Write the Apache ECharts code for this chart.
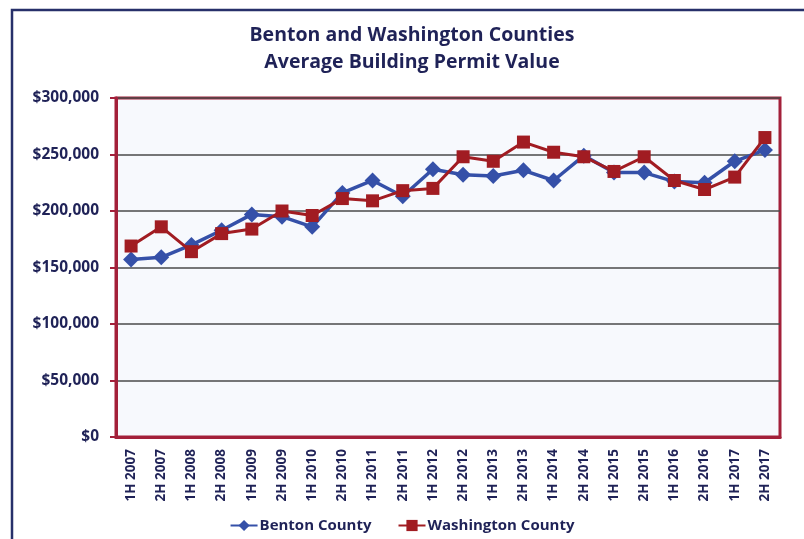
<!DOCTYPE html>
<html>
<head>
<meta charset="utf-8">
<title>Average Building Permit Value</title>
<script src="https://cdn.jsdelivr.net/npm/echarts@6/dist/echarts.min.js"></script>
<style>
  html, body { margin: 0; padding: 0; background: #ffffff; }
  #main { width: 804px; height: 539px; }
</style>
</head>
<body>
<div id="main"></div>
<script>
// half-year periods
var periods = ['1H 2007','2H 2007','1H 2008','2H 2008','1H 2009','2H 2009','1H 2010','2H 2010',
  '1H 2011','2H 2011','1H 2012','2H 2012','1H 2013','2H 2013','1H 2014','2H 2014',
  '1H 2015','2H 2015','1H 2016','2H 2016','1H 2017','2H 2017'];

// average permit value
var benton = [157000,159000,170000,183000,197000,195000,186000,216000,227000,213000,237000,232000,
  231000,236000,227000,249000,234000,234000,226000,225000,244000,254000];
var washington = [169000,186000,164000,180000,184000,200000,196000,211000,209000,218000,220000,248000,
  244000,261000,252000,248000,235000,248000,227000,219000,230000,265000];

var yTicks = [0, 50000, 100000, 150000, 200000, 250000, 300000];

var navy = '#1f2257';
var fontFam = 'Open Sans';

var myChart = echarts.init(document.getElementById('main'));

var option = {
  backgroundColor: '#ffffff',
  graphic: [{
    type: 'rect',
    shape: { x: 12, y: 10, width: 820, height: 560 },
    style: { fill: null, stroke: '#27306a', lineWidth: 2.5 },
    silent: true,
    z: -1
  }],
  title: {
    text: 'Benton and Washington Counties\nAverage Building Permit Value',
    left: 407,
    textAlign: 'center',
    top: 17,
    textStyle: {
      fontFamily: fontFam,
      fontWeight: 'bold',
      fontSize: 19.5,
      color: navy,
      lineHeight: 27
    }
  },
  grid: {
    left: 116,
    right: 24,
    top: 98,
    bottom: 102,
    show: true,
    backgroundColor: '#f7f9fd',
    borderColor: '#a3203a',
    borderWidth: 3
  },
  legend: {
    bottom: 1,
    left: 'center',
    itemWidth: 27,
    itemHeight: 14,
    itemGap: 26,
    textStyle: { fontFamily: fontFam, fontWeight: 'bold', fontSize: 15, color: navy, padding: [0, 0, 0, -3] },
    data: ['Benton County', 'Washington County']
  },
  xAxis: {
    type: 'category',
    data: periods,
    boundaryGap: true,
    axisLine: { lineStyle: { color: '#a3203a', width: 3 } },
    axisTick: { show: false },
    axisLabel: {
      interval: 0,
      rotate: 90,
      margin: 12,
      fontFamily: fontFam,
      fontWeight: 'bold',
      fontSize: 13.5,
      color: navy
    }
  },
  yAxis: {
    type: 'value',
    min: yTicks[0],
    max: yTicks[yTicks.length - 1],
    interval: 50000,
    axisLine: { show: true, lineStyle: { color: '#a3203a', width: 3 } },
    axisTick: { show: true, length: 6, lineStyle: { color: '#a3203a', width: 2 } },
    splitLine: { lineStyle: { color: '#4a4a4a', width: 1.5 } },
    axisLabel: {
      margin: 17,
      fontFamily: fontFam,
      fontWeight: 'bold',
      fontSize: 15.5,
      color: navy,
      formatter: function (v) {
        return '$' + v.toLocaleString('en-US');
      }
    }
  },
  series: [
    {
      name: 'Benton County',
      type: 'line',
      data: benton,
      symbol: 'diamond',
      symbolSize: 16,
      lineStyle: { color: '#3550a8', width: 3.5 },
      itemStyle: { color: '#3550a8' },
      z: 2
    },
    {
      name: 'Washington County',
      type: 'line',
      data: washington,
      symbol: 'rect',
      symbolSize: 13,
      lineStyle: { color: '#a11c22', width: 3 },
      itemStyle: { color: '#a11c22' },
      z: 3
    }
  ]
};

myChart.setOption(option);
</script>
</body>
</html>
